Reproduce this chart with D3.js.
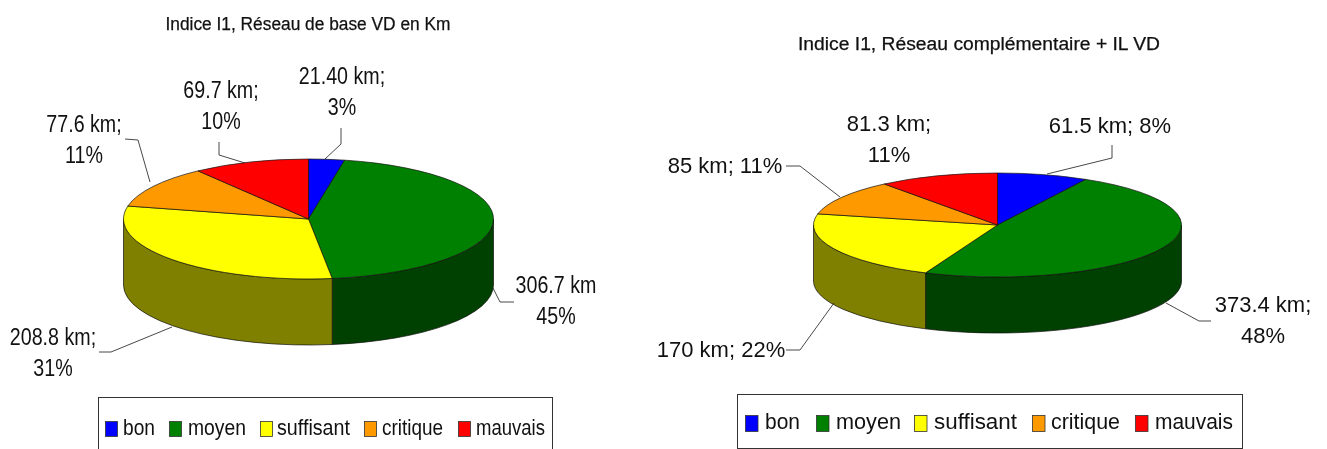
<!DOCTYPE html>
<html>
<head>
<meta charset="utf-8">
<script src="https://d3js.org/d3.v7.min.js"></script>
<style>
  html, body { margin: 0; padding: 0; background: #fff; }
  svg { display: block; filter: blur(0.35px); }
  text { font-family: "Liberation Sans", Arial, sans-serif; fill: #111; }
</style>
</head>
<body>
<svg id="chart" width="1327" height="449"></svg>
<script>
// data
const categories = ['bon', 'moyen', 'suffisant', 'critique', 'mauvais']
const baseKm = [21.4, 306.7, 208.8, 77.6, 69.7]
const complKm = [61.5, 373.4, 170, 85, 81.3]
const baseLabels = [['21.40 km;', '3%'], ['306.7 km', '45%'], ['208.8 km;', '31%'], ['77.6 km;', '11%'], ['69.7 km;', '10%']]
const complLabels = [['61.5 km; 8%'], ['373.4 km;', '48%'], ['170 km; 22%'], ['85 km; 11%'], ['81.3 km;', '11%']]
const topColors = ['#0000ff', '#008000', '#ffff00', '#ff9900', '#ff0000']
const sideColors = ['#000080', '#004000', '#808000', '#804c00', '#800000']

const color = d3.scaleOrdinal().domain(categories).range(topColors)
const sideColor = d3.scaleOrdinal().domain(categories).range(sideColors)
const svg = d3.select('#chart')

// label spots and leader lines, one per slice
const left = {
    title: 'Indice I1, Réseau de base VD en Km', titleX: 308, titleY: 30, titleW: 285, titleSize: 18,
    cx: 308.5, cy: 219, rx: 185, ry: 60, depth: 66,
    values: baseKm, labels: baseLabels, fontSize: 24, lineH: 31, stretch: 0.82,
    labelPos: [[342, 84], [556, 293], [53, 345], [84, 132], [221, 98]],
    leaders: [
        [[341, 128], [341, 144], [325, 159]],
        [[514, 302], [500, 302], [493, 288]],
        [[99, 352], [111, 352], [172, 327]],
        [[125, 139], [138, 140], [150, 182]],
        [[219, 142], [219, 155], [245, 163]]
    ],
    box: [98, 397, 454, 60], legendSize: 22, swatchY: 421, swatchH: 15, textY: 435,
    swatchX: [105, 169, 260, 364, 458], swatchW: 12,
    textX: [123, 188, 277, 382, 476], textW: [32, 58, 73, 61, 69]
}
const right = {
    title: 'Indice I1, Réseau complémentaire + IL VD', titleX: 979, titleY: 50, titleW: 362, titleSize: 18,
    cx: 997.5, cy: 225, rx: 184, ry: 52, depth: 56,
    values: complKm, labels: complLabels, fontSize: 22, lineH: 31, stretch: 1,
    labelPos: [[1110, 133], [1263, 312], [721, 357], [725, 173], [889, 131]],
    leaders: [
        [[1112, 145], [1112, 158], [1047, 174]],
        [[1211, 321], [1199, 321], [1166, 303]],
        [[786, 350], [800, 350], [834, 303]],
        [[786, 166], [800, 166], [840, 197]],
        []
    ],
    box: [737, 394, 505, 54], legendSize: 21.5, swatchY: 415, swatchH: 16, textY: 429,
    swatchX: [745, 816, 914, 1032, 1135], swatchW: 12.5,
    textX: [765, 836, 934, 1051, 1155], textW: [35, 65, 83, 69, 78]
}

function drawPie(cfg) {
    const arcs = d3.pie().sort(null)(cfg.values)
    const names = categories

    svg.append('text')
        .attr('x', cfg.titleX).attr('y', cfg.titleY)
        .attr('text-anchor', 'middle')
        .attr('font-size', cfg.titleSize)
        .attr('stroke', '#111')
        .attr('stroke-width', 0.25)
        .attr('textLength', cfg.titleW)
        .attr('lengthAdjust', 'spacingAndGlyphs')
        .text(cfg.title)

    // outer wall, only the part facing the viewer
    const px = a => cfg.cx + cfg.rx * Math.sin(a)
    const py = a => cfg.cy - cfg.ry * Math.cos(a)
    arcs.forEach(function (d, i) {
        const a0 = Math.max(d.startAngle, Math.PI / 2)
        const a1 = Math.min(d.endAngle, Math.PI * 1.5)
        if (a1 <= a0) { return }
        const wall = 'M' + px(a0) + ',' + py(a0)
            + 'A' + cfg.rx + ',' + cfg.ry + ' 0 0 1 ' + px(a1) + ',' + py(a1)
            + 'L' + px(a1) + ',' + (py(a1) + cfg.depth)
            + 'A' + cfg.rx + ',' + cfg.ry + ' 0 0 0 ' + px(a0) + ',' + (py(a0) + cfg.depth)
            + 'Z'
        svg.append('path')
            .attr('d', wall)
            .attr('fill', sideColor(names[i]))
            .attr('stroke', '#111')
            .attr('stroke-width', 0.7)
    })

    // top face: plain d3 arcs squashed into an ellipse
    const arc = d3.arc().innerRadius(0).outerRadius(cfg.rx)
    svg.append('g')
        .attr('transform', 'translate(' + cfg.cx + ',' + cfg.cy + ') scale(1,' + (cfg.ry / cfg.rx) + ')')
        .selectAll('path')
        .data(arcs)
        .join('path')
        .attr('d', arc)
        .attr('fill', (d, i) => color(names[i]))
        .attr('stroke', '#111')
        .attr('stroke-width', 0.7)
        .attr('vector-effect', 'non-scaling-stroke')

    // leaders
    const line = d3.line()
    cfg.leaders.forEach(function (pts) {
        if (!pts.length) { return }
        svg.append('path')
            .attr('d', line(pts))
            .attr('fill', 'none')
            .attr('stroke', '#333')
            .attr('stroke-width', 0.9)
    })

    // data labels
    cfg.labels.forEach(function (lines, i) {
        const pos = cfg.labelPos[i]
        lines.forEach(function (s, j) {
            svg.append('text')
                .attr('transform', 'translate(' + pos[0] + ',' + (pos[1] + j * cfg.lineH) + ') scale(' + cfg.stretch + ',1)')
                .attr('text-anchor', 'middle')
                .attr('font-size', cfg.fontSize)
                .text(s)
        })
    })

    // legend
    svg.append('rect')
        .attr('x', cfg.box[0] + 0.5).attr('y', cfg.box[1] + 0.5)
        .attr('width', cfg.box[2]).attr('height', cfg.box[3])
        .attr('fill', 'none')
        .attr('stroke', '#333')
        .attr('stroke-width', 1)
    names.forEach(function (n, i) {
        svg.append('rect')
            .attr('x', cfg.swatchX[i] + 0.5).attr('y', cfg.swatchY + 0.5)
            .attr('width', cfg.swatchW).attr('height', cfg.swatchH)
            .attr('fill', color(n))
            .attr('stroke', '#333')
            .attr('stroke-width', 0.8)
        svg.append('text')
            .attr('x', cfg.textX[i]).attr('y', cfg.textY)
            .attr('font-size', cfg.legendSize)
            .attr('textLength', cfg.textW[i])
            .attr('lengthAdjust', 'spacingAndGlyphs')
            .text(n)
    })
}

drawPie(left)
drawPie(right)
</script>
</body>
</html>
